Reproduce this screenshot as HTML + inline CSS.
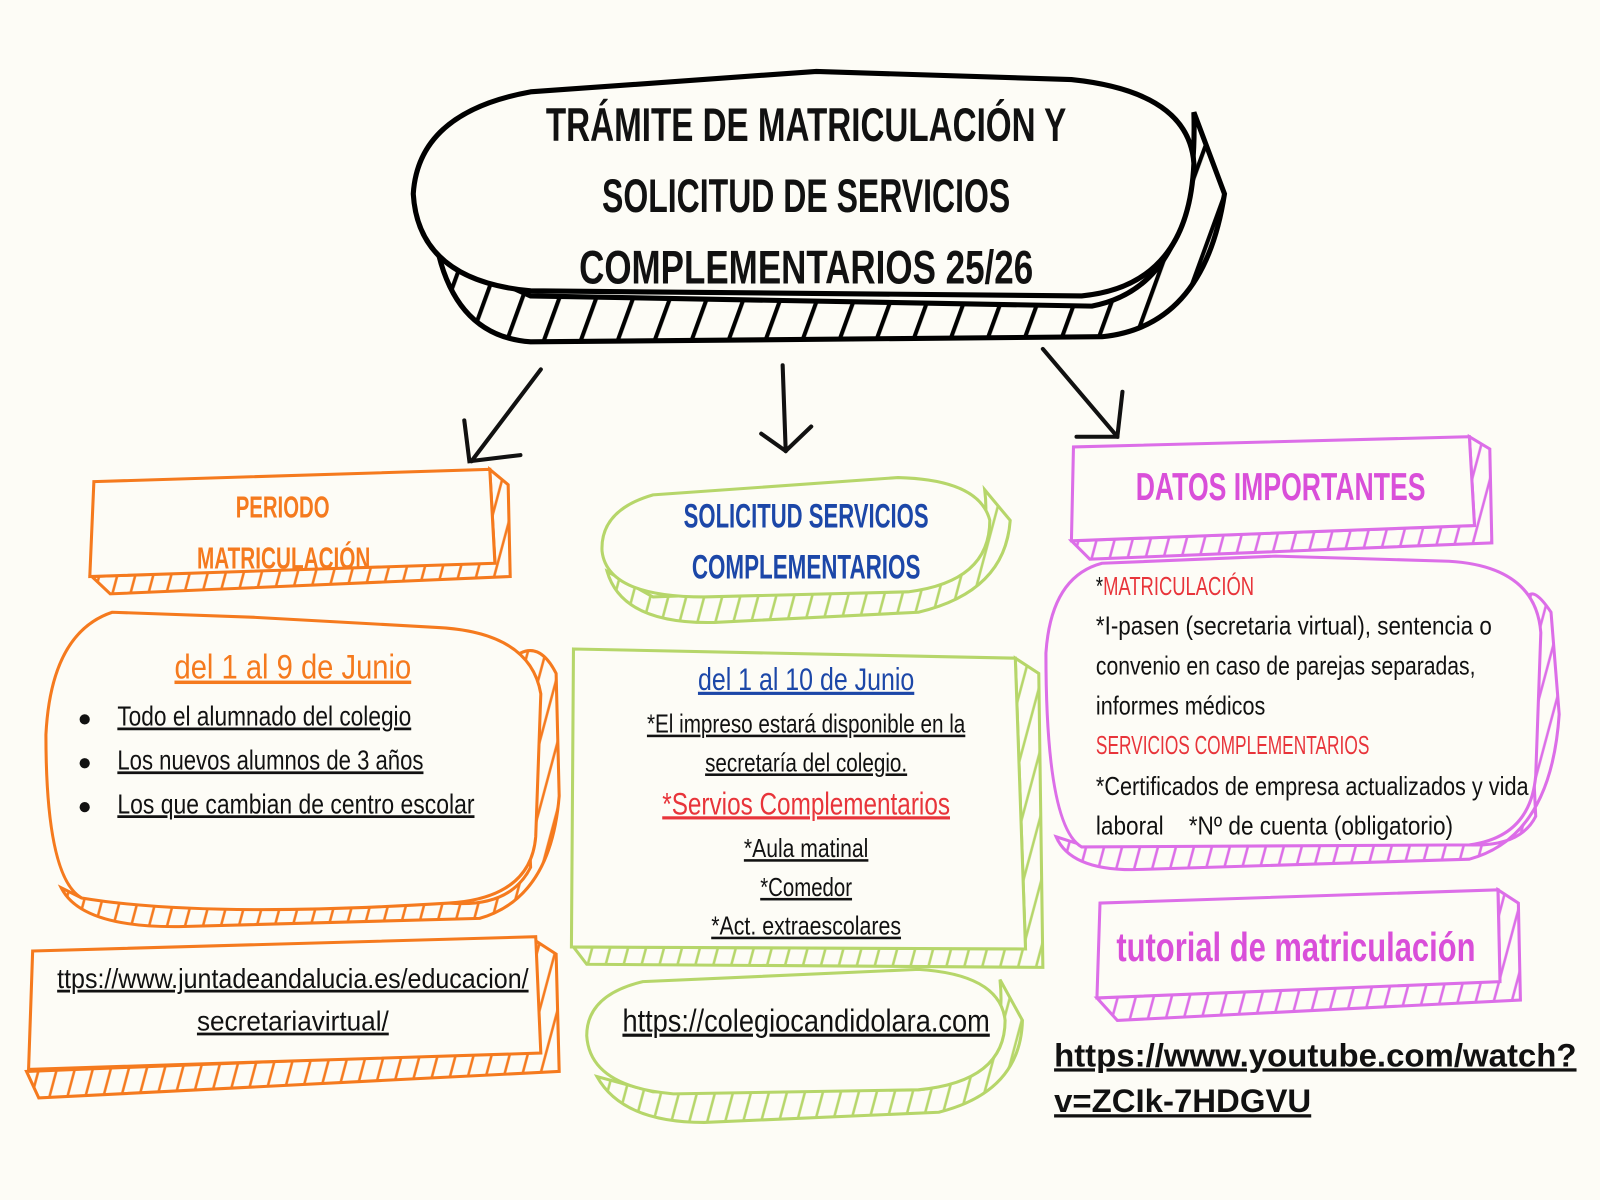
<!DOCTYPE html>
<html><head><meta charset="utf-8"><style>
html,body{margin:0;padding:0;background:#fdfcf6;}
svg{display:block}
text{font-family:"Liberation Sans Narrow","Liberation Sans",sans-serif;}
</style></head><body>
<svg width="1600" height="1200" viewBox="0 0 1568 1176" xmlns="http://www.w3.org/2000/svg">
<defs>
<pattern id="hk" patternUnits="userSpaceOnUse" width="34" height="40" patternTransform="rotate(20)"><rect width="34" height="40" fill="#fdfcf6"/><line x1="3" y1="0" x2="3" y2="40" stroke="#000" stroke-width="4"/></pattern>
<pattern id="ho" patternUnits="userSpaceOnUse" width="17" height="30" patternTransform="rotate(15)"><rect width="17" height="30" fill="#fdfcf6"/><line x1="2" y1="0" x2="2" y2="30" stroke="#f57a1e" stroke-width="2.5"/></pattern>
<pattern id="hg" patternUnits="userSpaceOnUse" width="17" height="30" patternTransform="rotate(15)"><rect width="17" height="30" fill="#fdfcf6"/><line x1="2" y1="0" x2="2" y2="30" stroke="#b6d66a" stroke-width="2.5"/></pattern>
<pattern id="hp" patternUnits="userSpaceOnUse" width="17" height="30" patternTransform="rotate(15)"><rect width="17" height="30" fill="#fdfcf6"/><line x1="2" y1="0" x2="2" y2="30" stroke="#dc6ee8" stroke-width="2.5"/></pattern>
</defs>
<rect width="1568" height="1176" fill="#fdfcf6"/>

<!-- Title -->
<path d="M430,250 Q450,330 520,335 L1080,330 Q1180,320 1200,190 L1170,110 Q1175,280 1070,300 L520,290 Z" fill="url(#hk)" stroke="#000" stroke-width="5"/>
<path d="M520,90 Q410,110 405,190 Q410,275 520,285 L1060,290 Q1165,280 1170,160 Q1165,90 1050,78 L800,70 Z" fill="#fdfcf6" stroke="#000" stroke-width="5"/>
<g font-size="46" font-weight="bold" text-anchor="middle" fill="#111">
<text x="790" y="138" textLength="510" lengthAdjust="spacingAndGlyphs">TRÁMITE DE MATRICULACIÓN Y</text>
<text x="790" y="208" textLength="400" lengthAdjust="spacingAndGlyphs">SOLICITUD DE SERVICIOS</text>
<text x="790" y="278" textLength="445" lengthAdjust="spacingAndGlyphs">COMPLEMENTARIOS 25/26</text>
</g>

<!-- arrows -->
<g stroke="#111" stroke-width="4" fill="none" stroke-linecap="round">
<path d="M530,362 L462,452"/><path d="M455,412 L460,452 L510,446"/>
<path d="M767,358 L770,442"/><path d="M746,425 L770,442 L795,418"/>
<path d="M1022,342 L1095,428"/><path d="M1100,384 L1095,428 L1055,428"/>
</g>

<!-- Orange header box -->
<path d="M90,565 L108,582 L500,565 L498,475 L480,460 L485,550 Z" fill="url(#ho)" stroke="#f57a1e" stroke-width="3"/>
<path d="M92,472 L480,460 L485,552 L88,565 Z" fill="#fdfcf6" stroke="#f57a1e" stroke-width="3"/>
<g fill="#f57a1e" font-size="30" text-anchor="middle" font-weight="bold">
<text x="277" y="507" textLength="92" lengthAdjust="spacingAndGlyphs">PERIODO</text>
<text x="278" y="557" textLength="170" lengthAdjust="spacingAndGlyphs">MATRICULACIÓN</text>
</g>

<!-- Orange rounded box -->
<path d="M60,870 Q80,910 180,908 L470,900 Q540,880 548,780 L545,660 Q530,630 510,640 L520,850 Q500,890 440,885 L80,880 Z" fill="url(#ho)" stroke="#f57a1e" stroke-width="3"/>
<path d="M110,600 Q50,620 45,720 Q45,860 80,880 Q200,900 440,885 Q520,880 525,820 L530,680 Q520,620 430,615 L250,605 Z" fill="#fdfcf6" stroke="#f57a1e" stroke-width="3"/>
<text x="287" y="665" fill="#f57a1e" font-size="34" text-anchor="middle" text-decoration="underline" textLength="232" lengthAdjust="spacingAndGlyphs">del 1 al 9 de Junio</text>
<g fill="#111" font-size="27">
<circle cx="83" cy="705" r="5"/><circle cx="83" cy="748" r="5"/><circle cx="83" cy="791" r="5"/>
<text x="115" y="711" text-decoration="underline" textLength="288" lengthAdjust="spacingAndGlyphs">Todo el alumnado del colegio</text>
<text x="115" y="754" text-decoration="underline" textLength="300" lengthAdjust="spacingAndGlyphs">Los nuevos alumnos de 3 años</text>
<text x="115" y="797" text-decoration="underline" textLength="350" lengthAdjust="spacingAndGlyphs">Los que cambian de centro escolar</text>
</g>

<!-- Orange link box -->
<path d="M26,1050 L38,1076 L548,1050 L545,935 L525,922 L528,1030 Z" fill="url(#ho)" stroke="#f57a1e" stroke-width="3"/>
<path d="M32,932 L525,918 L530,1032 L28,1048 Z" fill="#fdfcf6" stroke="#f57a1e" stroke-width="3"/>
<g fill="#111" font-size="27" text-anchor="middle" text-decoration="underline">
<text x="287" y="968" textLength="462" lengthAdjust="spacingAndGlyphs">ttps://www.juntadeandalucia.es/educacion/</text>
<text x="287" y="1010" textLength="188" lengthAdjust="spacingAndGlyphs">secretariavirtual/</text>
</g>

<!-- Green header -->
<path d="M595,560 Q610,612 700,610 L900,600 Q985,580 990,510 L965,480 Q975,560 900,575 L640,585 Z" fill="url(#hg)" stroke="#b6d66a" stroke-width="3"/>
<path d="M640,485 Q588,500 590,540 Q595,585 690,585 L890,580 Q970,570 970,510 Q960,470 880,468 Z" fill="#fdfcf6" stroke="#b6d66a" stroke-width="3"/>
<g fill="#1c47a8" font-size="34" text-anchor="middle" font-weight="bold">
<text x="790" y="517" textLength="240" lengthAdjust="spacingAndGlyphs">SOLICITUD SERVICIOS</text>
<text x="790" y="567" textLength="224" lengthAdjust="spacingAndGlyphs">COMPLEMENTARIOS</text>
</g>

<!-- Green rect -->
<path d="M562,928 L575,945 L1022,948 L1018,660 L995,645 L1005,930 Z" fill="url(#hg)" stroke="#b6d66a" stroke-width="3"/>
<path d="M562,636 L995,645 L1005,930 L560,928 Z" fill="#fdfcf6" stroke="#b6d66a" stroke-width="3"/>
<g text-anchor="middle" font-size="25" fill="#111">
<text x="790" y="676" fill="#1c47a8" font-size="31" text-decoration="underline" textLength="212" lengthAdjust="spacingAndGlyphs">del 1 al 10 de Junio</text>
<text x="790" y="718" text-decoration="underline" textLength="312" lengthAdjust="spacingAndGlyphs">*El impreso estará disponible en la</text>
<text x="790" y="756" text-decoration="underline" textLength="198" lengthAdjust="spacingAndGlyphs">secretaría del colegio.</text>
<text x="790" y="798" fill="#e8343a" font-size="31" text-decoration="underline" textLength="282" lengthAdjust="spacingAndGlyphs">*Servios Complementarios</text>
<text x="790" y="840" text-decoration="underline" textLength="122" lengthAdjust="spacingAndGlyphs">*Aula matinal</text>
<text x="790" y="878" text-decoration="underline" textLength="90" lengthAdjust="spacingAndGlyphs">*Comedor</text>
<text x="790" y="916" text-decoration="underline" textLength="186" lengthAdjust="spacingAndGlyphs">*Act. extraescolares</text>
</g>

<!-- Green link rounded -->
<path d="M585,1055 Q610,1100 690,1100 L920,1090 Q1000,1070 1002,1000 L980,960 Q990,1060 900,1068 L640,1070 Z" fill="url(#hg)" stroke="#b6d66a" stroke-width="3"/>
<path d="M630,962 Q575,975 575,1015 Q578,1065 660,1072 L900,1068 Q985,1060 985,1000 Q980,955 900,950 Z" fill="#fdfcf6" stroke="#b6d66a" stroke-width="3"/>
<text x="790" y="1011" font-size="31" fill="#111" text-anchor="middle" text-decoration="underline" textLength="360" lengthAdjust="spacingAndGlyphs">https://colegiocandidolara.com</text>

<!-- Pink header -->
<path d="M1050,530 L1068,548 L1462,532 L1460,440 L1440,428 L1445,515 Z" fill="url(#hp)" stroke="#dc6ee8" stroke-width="3"/>
<path d="M1052,438 L1440,428 L1445,515 L1050,530 Z" fill="#fdfcf6" stroke="#dc6ee8" stroke-width="3"/>
<text x="1255" y="490" fill="#d94fd9" font-size="38" text-anchor="middle" font-weight="bold" textLength="284" lengthAdjust="spacingAndGlyphs">DATOS IMPORTANTES</text>

<!-- Pink rounded -->
<path d="M1035,820 Q1050,855 1120,852 L1440,842 Q1520,820 1528,700 L1520,600 Q1500,570 1495,590 L1505,800 Q1490,830 1440,828 L1060,828 Z" fill="url(#hp)" stroke="#dc6ee8" stroke-width="3"/>
<path d="M1080,552 Q1030,565 1025,640 Q1025,810 1060,830 L1440,828 Q1500,820 1505,760 L1510,620 Q1505,555 1420,550 L1250,545 Z" fill="#fdfcf6" stroke="#dc6ee8" stroke-width="3"/>
<g font-size="25" fill="#111">
<text x="1074" y="583" textLength="155" lengthAdjust="spacingAndGlyphs">*<tspan fill="#e8343a">MATRICULACIÓN</tspan></text>
<text x="1074" y="622" textLength="388" lengthAdjust="spacingAndGlyphs">*I-pasen (secretaria virtual), sentencia o</text>
<text x="1074" y="661" textLength="372" lengthAdjust="spacingAndGlyphs">convenio en caso de parejas separadas,</text>
<text x="1074" y="700" textLength="166" lengthAdjust="spacingAndGlyphs">informes médicos</text>
<text x="1074" y="739" fill="#e8343a" textLength="268" lengthAdjust="spacingAndGlyphs">SERVICIOS COMPLEMENTARIOS</text>
<text x="1074" y="779" textLength="424" lengthAdjust="spacingAndGlyphs">*Certificados de empresa actualizados y vida</text>
<text x="1074" y="818" textLength="350" lengthAdjust="spacingAndGlyphs" xml:space="preserve">laboral    *Nº de cuenta (obligatorio)</text>
</g>

<!-- Pink tutorial -->
<path d="M1075,978 L1095,1000 L1490,980 L1488,885 L1468,872 L1470,960 Z" fill="url(#hp)" stroke="#dc6ee8" stroke-width="3"/>
<path d="M1078,885 L1468,872 L1470,962 L1075,978 Z" fill="#fdfcf6" stroke="#dc6ee8" stroke-width="3"/>
<text x="1270" y="942" fill="#d94fd9" font-size="40" text-anchor="middle" font-weight="bold" textLength="352" lengthAdjust="spacingAndGlyphs">tutorial de matriculación</text>

<!-- youtube -->
<g font-family="Liberation Sans, sans-serif" font-weight="bold" font-size="32" fill="#111" text-decoration="underline">
<text x="1033" y="1045" style="font-family:'Liberation Sans',sans-serif" textLength="512" lengthAdjust="spacingAndGlyphs">https://www.youtube.com/watch?</text>
<text x="1033" y="1090" style="font-family:'Liberation Sans',sans-serif" textLength="252" lengthAdjust="spacingAndGlyphs">v=ZCIk-7HDGVU</text>
</g>
</svg>
</body></html>
